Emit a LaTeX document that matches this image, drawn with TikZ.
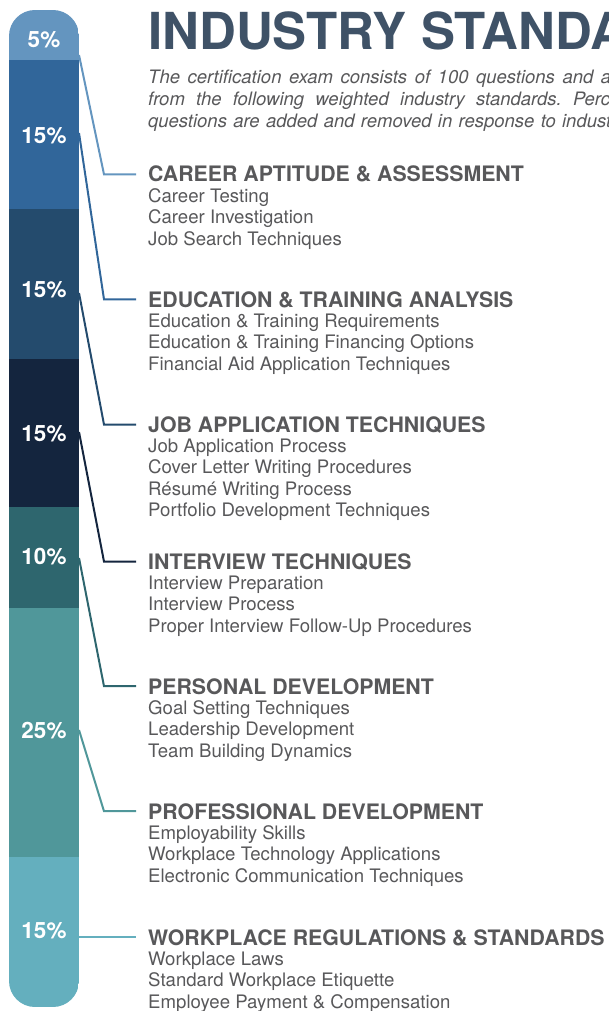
\documentclass[tikz,border=0pt]{standalone}
\usepackage{fontspec}
\setmainfont{TeX Gyre Heros}
\usetikzlibrary{positioning}
\definecolor{segA}{HTML}{6495BF}
\definecolor{segB}{HTML}{31669A}
\definecolor{segC}{HTML}{244B6D}
\definecolor{segD}{HTML}{14253E}
\definecolor{segE}{HTML}{2E666E}
\definecolor{segF}{HTML}{50979A}
\definecolor{segG}{HTML}{64AFBE}
\definecolor{titleblue}{HTML}{3F5267}
\definecolor{inkgray}{HTML}{58585A}
\frenchspacing

\begin{document}
\begin{tikzpicture}[x=1pt,y=-1pt,
    pct/.style={text=white,font=\bfseries\fontsize{22.5}{26}\selectfont},
    head/.style={anchor=base west,inner sep=0pt,text=inkgray,font=\bfseries\fontsize{21.3}{25}\selectfont},
    item/.style={anchor=base west,inner sep=0pt,text=inkgray,font=\fontsize{18.6}{22}\selectfont},
    para/.style={anchor=base west,inner sep=0pt,text=inkgray,font=\itshape\fontsize{18.5}{22}\selectfont},
    link/.style={line width=2pt}]

	\useasboundingbox (0,0) rectangle (608,1011);
	\clip (0,0) rectangle (608,1011);

	% title and intro
	\node[anchor=base west,inner sep=0pt,text=titleblue,font=\bfseries\fontsize{51}{56}\selectfont] (title) at (148,50) {INDUSTRY STANDA};
	\node[para] (d1) at (148,84) {\makebox[463pt][s]{The certification exam consists of 100 questions and a}};
	\node[para] (d2) at (148,106) {\makebox[462pt][s]{from the following weighted industry standards. Perc}};
	\node[para] (d3) at (148,128) {\makebox[463pt][s]{questions are added and removed in response to indust}};

	% bar
	\begin{scope}
		\clip[rounded corners=26pt] (9,10) rectangle (79,1007);
		\foreach \top/\bot/\col in {10/60/segA, 60/209/segB, 209/359/segC, 359/507/segD, 507/608/segE, 608/857/segF, 857/1007/segG}
			\fill[\col] (9,\top) rectangle (79,\bot);
	\end{scope}

	% percentages
	\foreach \n/\y/\v in {1/40/5, 2/136/15, 3/290/15, 4/434/15, 5/557/10, 6/731/25, 7/931/15}
		\node[pct] (l\n) at (44,\y) {\v\%};

	% standards
	\foreach \n/\y/\head/\list in {
		1/182/{CAREER APTITUDE \& ASSESSMENT}/{Career Testing, Career Investigation, Job Search Techniques},
		2/307/{EDUCATION \& TRAINING ANALYSIS}/{Education \& Training Requirements, Education \& Training Financing Options, Financial Aid Application Techniques},
		3/432/{JOB APPLICATION TECHNIQUES}/{Job Application Process, Cover Letter Writing Procedures, Résumé Writing Process, Portfolio Development Techniques},
		4/569/{INTERVIEW TECHNIQUES}/{Interview Preparation, Interview Process, Proper Interview Follow-Up Procedures},
		5/694/{PERSONAL DEVELOPMENT}/{Goal Setting Techniques, Leadership Development, Team Building Dynamics},
		6/819/{PROFESSIONAL DEVELOPMENT}/{Employability Skills, Workplace Technology Applications, Electronic Communication Techniques},
		7/945/{WORKPLACE REGULATIONS \& STANDARDS}/{Workplace Laws, Standard Workplace Etiquette, Employee Payment \& Compensation}}{
		\node[head] (h\n) at (148,\y) {\head};
		\foreach \t [count=\i] in \list
			\node[item] (h\n-\i) at (148,{\y-1.5+21.5*\i}) {\t};
	}

	% connectors
	\foreach \n/\y/\col in {1/55/segA, 2/133/segB, 3/293/segC, 4/432/segD, 5/558/segE, 6/730/segF}{
		\coordinate (p\n) at (79,\y);
		\draw[link,\col] (p\n) -- ([xshift=-44pt]h\n.west) -- ([xshift=-12pt]h\n.west);
	}
	\coordinate (p7) at (79,936);
	\draw[link,segG] (p7 |- h7.west) -- ([xshift=-12pt]h7.west);

\end{tikzpicture}
\end{document}
